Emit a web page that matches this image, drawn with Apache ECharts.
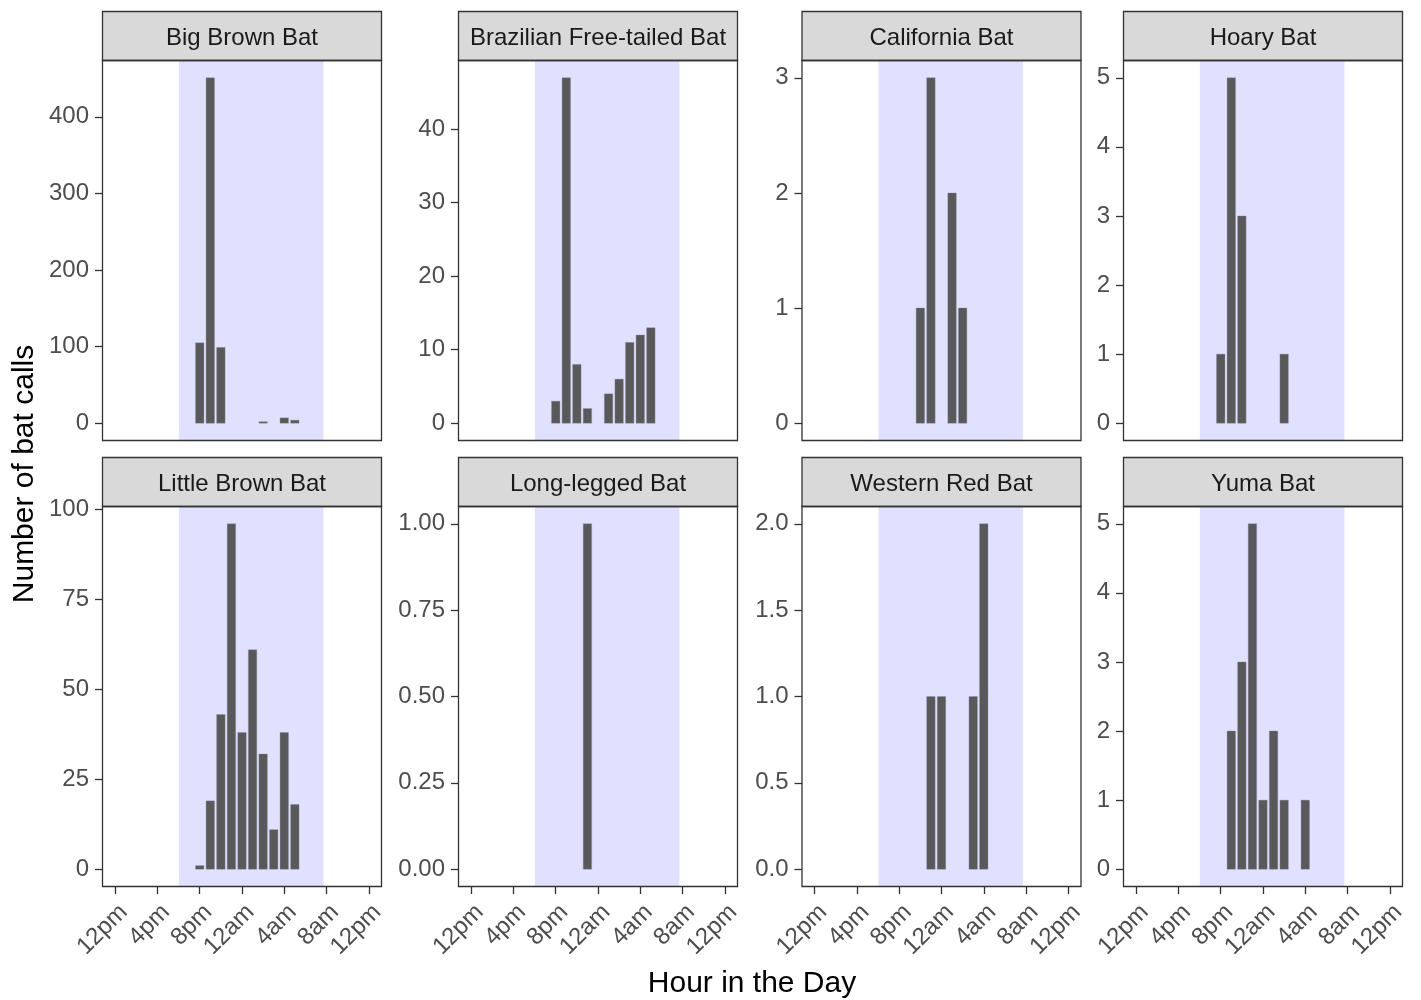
<!DOCTYPE html>
<html>
<head>
<meta charset="utf-8">
<script src="https://cdn.jsdelivr.net/npm/echarts@6/dist/echarts.min.js"></script>
<style>
html,body{margin:0;padding:0;background:#ffffff;}
#chart{width:1421px;height:1000px;}
</style>
</head>
<body>
<div id="chart"></div>
<script>
// ---------------- data ----------------
const species = ['Big Brown Bat', 'Brazilian Free-tailed Bat', 'California Bat', 'Hoary Bat',
                 'Little Brown Bat', 'Long-legged Bat', 'Western Red Bat', 'Yuma Bat'];

const bigBrownHours = [20, 21, 22, 26, 28, 29];
const bigBrownCalls = [105, 451, 99, 2, 7, 4];

const brazilianHours = [20, 21, 22, 23, 25, 26, 27, 28, 29];
const brazilianCalls = [3, 47, 8, 2, 4, 6, 11, 12, 13];

const californiaHours = [22, 23, 25, 26];
const californiaCalls = [1, 3, 2, 1];

const hoaryHours = [20, 21, 22, 26];
const hoaryCalls = [1, 5, 3, 1];

const littleBrownHours = [20, 21, 22, 23, 24, 25, 26, 27, 28, 29];
const littleBrownCalls = [1, 19, 43, 96, 38, 61, 32, 11, 38, 18];

const longLeggedHours = [23];
const longLeggedCalls = [1];

const westernRedHours = [23, 24, 27, 28];
const westernRedCalls = [1, 1, 1, 2];

const yumaHours = [21, 22, 23, 24, 25, 26, 28];
const yumaCalls = [2, 3, 5, 1, 2, 1, 1];

// night (shaded) period, in hours since midnight of day 1
const nightStart = 18.03;
const nightEnd = 31.7;

// x ticks
const xTickHours = [12, 16, 20, 24, 28, 32, 36];
const xTickLabels = ['12pm', '4pm', '8pm', '12am', '4am', '8am', '12pm'];

// y ticks per panel
const bigBrownTicks = [0, 100, 200, 300, 400];
const bigBrownTickLabels = ['0', '100', '200', '300', '400'];
const brazilianTicks = [0, 10, 20, 30, 40];
const brazilianTickLabels = ['0', '10', '20', '30', '40'];
const californiaTicks = [0, 1, 2, 3];
const californiaTickLabels = ['0', '1', '2', '3'];
const hoaryTicks = [0, 1, 2, 3, 4, 5];
const hoaryTickLabels = ['0', '1', '2', '3', '4', '5'];
const littleBrownTicks = [0, 25, 50, 75, 100];
const littleBrownTickLabels = ['0', '25', '50', '75', '100'];
const longLeggedTicks = [0, 0.25, 0.5, 0.75, 1];
const longLeggedTickLabels = ['0.00', '0.25', '0.50', '0.75', '1.00'];
const westernRedTicks = [0, 0.5, 1, 1.5, 2];
const westernRedTickLabels = ['0.0', '0.5', '1.0', '1.5', '2.0'];
const yumaTicks = [0, 1, 2, 3, 4, 5];
const yumaTickLabels = ['0', '1', '2', '3', '4', '5'];

// ---------------- assembly ----------------
const panelHours = [bigBrownHours, brazilianHours, californiaHours, hoaryHours,
                    littleBrownHours, longLeggedHours, westernRedHours, yumaHours];
const panelCalls = [bigBrownCalls, brazilianCalls, californiaCalls, hoaryCalls,
                    littleBrownCalls, longLeggedCalls, westernRedCalls, yumaCalls];
const panelTicks = [bigBrownTicks, brazilianTicks, californiaTicks, hoaryTicks,
                    littleBrownTicks, longLeggedTicks, westernRedTicks, yumaTicks];
const panelTickLabels = [bigBrownTickLabels, brazilianTickLabels, californiaTickLabels, hoaryTickLabels,
                         littleBrownTickLabels, longLeggedTickLabels, westernRedTickLabels, yumaTickLabels];

// layout
const FONT = '"Liberation Sans", Arial, Helvetica, sans-serif';
const colLeft = [102.5, 458.5, 802, 1123.5];
const panelW = 279;
const stripTop = [11.5, 457.5];
const stripH = 49;
const panelH = 380;
const BAR_HALF = 0.4;
const EXPAND = 0.05;

const xLo = xTickHours[0], xHi = xTickHours[xTickHours.length - 1];
const xPad = (xHi - xLo) * EXPAND;

const grids = [], xAxes = [], yAxes = [], series = [], graphics = [];

function barRender(params, api) {
  const h = api.value(0), c = api.value(1);
  const a = api.coord([h - BAR_HALF, c]);
  const b = api.coord([h + BAR_HALF, 0]);
  return {
    type: 'rect',
    shape: { x: a[0], y: a[1], width: b[0] - a[0], height: b[1] - a[1] },
    style: { fill: '#595959', stroke: 'rgba(140,140,160,0.7)', lineWidth: 0.5 }
  };
}

function nightRender(params, api) {
  const cs = params.coordSys;
  const x0 = api.coord([api.value(0), 0])[0];
  const x1 = api.coord([api.value(1), 0])[0];
  return {
    type: 'rect',
    shape: { x: x0, y: cs.y, width: x1 - x0, height: cs.height },
    style: { fill: '#E0E0FF' }
  };
}

for (let i = 0; i < species.length; i++) {
  const row = Math.floor(i / 4), col = i % 4;
  const left = colLeft[col];
  const sTop = stripTop[row];
  const top = sTop + stripH;
  const bottomRow = row === 1;
  grids.push({
    left: left, top: top, width: panelW, height: panelH,
    containLabel: false, outerBoundsMode: 'none',
    show: true, backgroundColor: '#ffffff', borderWidth: 0
  });

  const yMaxData = Math.max.apply(null, panelCalls[i].concat([0]));
  const yPad = yMaxData * EXPAND;
  const ticks = panelTicks[i];
  const tickLabels = panelTickLabels[i];

  xAxes.push({
    type: 'value', gridIndex: i, min: xLo - xPad, max: xHi + xPad,
    axisLine: { show: false, onZero: false },
    splitLine: { show: false },
    axisTick: { show: bottomRow, length: 7.5, lineStyle: { color: '#333333', width: 1.3 }, customValues: xTickHours },
    axisLabel: {
      show: bottomRow, customValues: xTickHours, rotate: 45, margin: 13.5,
      align: 'right', verticalAlign: 'top',
      fontFamily: FONT, fontSize: 24, color: '#4D4D4D',
      formatter: function (v) { const k = xTickHours.indexOf(v); return k >= 0 ? xTickLabels[k] : ''; }
    }
  });
  yAxes.push({
    type: 'value', gridIndex: i, min: -yPad, max: yMaxData + yPad,
    axisLine: { show: false, onZero: false },
    splitLine: { show: false },
    axisTick: { show: true, length: 7.5, lineStyle: { color: '#333333', width: 1.3 }, customValues: ticks },
    axisLabel: {
      show: true, customValues: ticks, margin: 13.5,
      fontFamily: FONT, fontSize: 24, color: '#4D4D4D', lineHeight: 24, padding: [3, 0, 0, 0],
      formatter: function (v) { const k = ticks.indexOf(v); return k >= 0 ? tickLabels[k] : ''; }
    }
  });

  series.push({
    type: 'custom', xAxisIndex: i, yAxisIndex: i, z: 1, silent: true,
    renderItem: nightRender, encode: { x: [0, 1] },
    data: [[nightStart, nightEnd]]
  });
  series.push({
    type: 'custom', xAxisIndex: i, yAxisIndex: i, z: 3, silent: true,
    renderItem: barRender, encode: { x: 0, y: 1 },
    data: panelHours[i].map(function (h, k) { return [h, panelCalls[i][k]]; })
  });

  // strip
  graphics.push({
    type: 'rect', z: 100,
    shape: { x: left, y: sTop, width: panelW, height: stripH },
    style: { fill: '#D9D9D9', stroke: '#333333', lineWidth: 1.3 }
  });
  graphics.push({
    type: 'text', z: 101, x: left + panelW / 2, y: sTop + stripH / 2 + 2,
    style: { text: species[i], fontFamily: FONT, fontSize: 24, fill: '#1A1A1A', align: 'center', verticalAlign: 'middle' }
  });
  // panel border
  graphics.push({
    type: 'rect', z: 100,
    shape: { x: left, y: top, width: panelW, height: panelH },
    style: { fill: 'none', stroke: '#333333', lineWidth: 1.3 }
  });
}

graphics.push({
  type: 'text', z: 101, x: 752, y: 984,
  style: { text: 'Hour in the Day', fontFamily: FONT, fontSize: 30, fill: '#000000', align: 'center', verticalAlign: 'middle' }
});
graphics.push({
  type: 'text', z: 101, x: 25, y: 474, rotation: Math.PI / 2,
  style: { text: 'Number of bat calls', fontFamily: FONT, fontSize: 30, fill: '#000000', align: 'center', verticalAlign: 'middle' }
});

const chart = echarts.init(document.getElementById('chart'), null, { renderer: 'canvas' });
chart.setOption({
  animation: false,
  backgroundColor: '#ffffff',
  grid: grids,
  xAxis: xAxes,
  yAxis: yAxes,
  series: series,
  graphic: graphics
});
</script>
</body>
</html>
